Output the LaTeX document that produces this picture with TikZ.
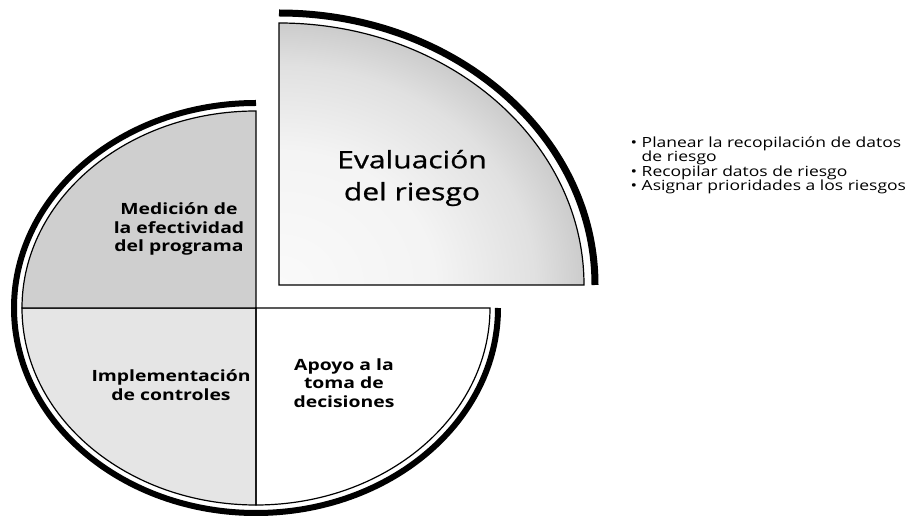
\documentclass[tikz,border=0pt]{standalone}
\usepackage{fontspec}
\usepackage{tikz}
\usepackage{xcolor}
\newfontfamily\diagfont[FakeStretch=1.25]{Open Sans}
\newfontfamily\diagheavy[FakeStretch=1.25, FakeBold=0.8]{Open Sans}
\pgfdeclareradialshading{rimshade}{\pgfpoint{0bp}{0bp}}{color(0bp)=(gray!4); color(13bp)=(gray!9); color(21bp)=(gray!24); color(25bp)=(gray!40); color(50bp)=(gray!40)}

\begin{document}
\begin{tikzpicture}[x=1pt, y=-1pt, line width=1.2pt,
		rim/.style={line width=6pt},
		bigtext/.style={font=\diagheavy\fontsize{24}{32}\selectfont, align=center},
		smalltext/.style={font=\diagfont\bfseries\fontsize{15.5}{18.5}\selectfont, align=center}]
		\useasboundingbox (0,0) rectangle (914,518);
		% the three quarters that stay in place
		\filldraw[fill=gray!20] (256,308) -- (22,308) arc[start angle=180, end angle=90, x radius=234, y radius=197] -- cycle;
		\filldraw[fill=gray!38] (256,308) -- (256,111) arc[start angle=270, end angle=180, x radius=234, y radius=197] -- cycle;
		\draw (256,308) -- (490,308) arc[start angle=0, end angle=90, x radius=234, y radius=197] -- cycle;
		\draw[rim] (256,103) arc[start angle=270, end angle=0, x radius=242, y radius=205];
		% the quarter pulled out
		\begin{scope}
			\clip (279,285) -- (279,23) arc[start angle=270, end angle=360, x radius=305, y radius=262] -- cycle;
			\shade[shading=rimshade] (279,285) ellipse[x radius=305, y radius=262];
		\end{scope}
		\draw (279,285) -- (279,23) arc[start angle=270, end angle=360, x radius=305, y radius=262] -- cycle;
		\draw[rim, line width=7pt] (279,13) arc[start angle=270, end angle=360, x radius=316, y radius=272];
		% labels
		\node[bigtext] (evaluacion) at (412,178) {Evaluación\\del riesgo};
		\node[smalltext] (medicion) at (179,229) {Medición de\\la efectividad\\del programa};
		\node[smalltext] (implementacion) at (171,385) {Implementación\\de controles};
		\node[smalltext] (apoyo) at (344,383) {Apoyo a la\\toma de\\decisiones};
		\node[font=\diagfont\fontsize{14}{14.5}\selectfont, align=left, anchor=north west, inner sep=0pt] (tareas) at (630,136)
			{• Planear la recopilación de datos\\\phantom{• }de riesgo\\• Recopilar datos de riesgo\\• Asignar prioridades a los riesgos};
	\end{tikzpicture}
\end{document}
